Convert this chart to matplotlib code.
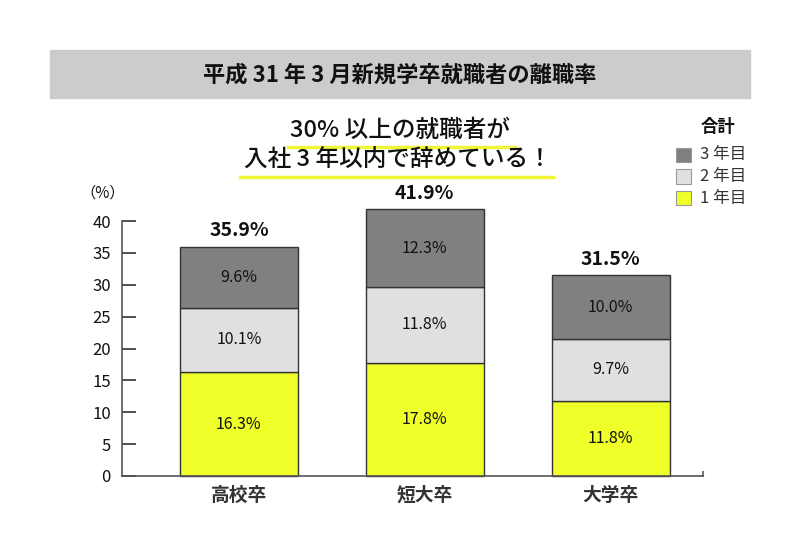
import matplotlib.pyplot as plt

plt.rcParams['font.family'] = ['Noto Sans CJK JP', 'DejaVu Sans']

categories = ['高校卒', '短大卒', '大学卒']
year1 = [16.3, 17.8, 11.8]
year2 = [10.1, 11.8, 9.7]
year3 = [9.6, 12.3, 10.0]
totals = [35.9, 41.9, 31.5]
yticks = [0, 5, 10, 15, 20, 25, 30, 35, 40]

c1 = '#eeff2a'
c2 = '#e0e0e0'
c3 = '#808080'
edge = '#333333'

fig = plt.figure(figsize=(8, 5.5), dpi=100)

# title band
fig.patches.append(plt.Rectangle((50 / 800, 1 - 98 / 550), 700 / 800, 48 / 550,
                                 transform=fig.transFigure, color='#cccccc', zorder=0))
fig.text(0.5, 1 - 75 / 550, '平成 31 年 3 月新規学卒就職者の離職率', ha='center', va='center',
         fontsize=16, fontweight='bold', color='#111111')

# headline with yellow underline
fig.text(400 / 800, 1 - 130 / 550, '30% 以上の就職者が', ha='center', va='center',
         fontsize=17, fontweight='medium', color='#111111')
fig.text(398 / 800, 1 - 160 / 550, '入社 3 年以内で辞めている！', ha='center', va='center',
         fontsize=17, fontweight='medium', color='#111111')
fig.add_artist(plt.Line2D([288 / 800, 515 / 800], [1 - 147 / 550, 1 - 147 / 550],
                          color='#f0f53a', lw=2.5, transform=fig.transFigure, zorder=0))
fig.add_artist(plt.Line2D([240 / 800, 553 / 800], [1 - 177 / 550, 1 - 177 / 550],
                          color='#f0f53a', lw=2.5, transform=fig.transFigure, zorder=0))

# legend
fig.text(718 / 800, 1 - 127 / 550, '合計', ha='center', va='center', fontsize=12.5,
         fontweight='bold', color='#111111')
for i, (col, lab) in enumerate([(c3, '3 年目'), (c2, '2 年目'), (c1, '1 年目')]):
    yc = 155 + i * 21.5
    fig.patches.append(plt.Rectangle((676 / 800, 1 - (yc + 7) / 550), 15 / 800, 14 / 550,
                                     transform=fig.transFigure, facecolor=col,
                                     edgecolor='#999999', lw=0.8))
    fig.text(700 / 800, 1 - yc / 550, lab, ha='left', va='center', fontsize=12, color='#333333')

ax = fig.add_axes([122 / 800, 1 - 476 / 550, (703 - 122) / 800, 255 / 550])
x = range(len(categories))
w = 0.635
ax.bar(x, year1, w, color=c1, edgecolor=edge, lw=1, clip_on=False)
ax.bar(x, year2, w, bottom=year1, color=c2, edgecolor=edge, lw=1, clip_on=False)
bot3 = [a + b for a, b in zip(year1, year2)]
ax.bar(x, year3, w, bottom=bot3, color=c3, edgecolor=edge, lw=1, clip_on=False)

for i in x:
    ax.text(i, year1[i] / 2, f'{year1[i]:.1f}%', ha='center', va='center', fontsize=11.5, color='#111111')
    ax.text(i, year1[i] + year2[i] / 2, f'{year2[i]:.1f}%', ha='center', va='center', fontsize=11.5, color='#111111')
    ax.text(i, bot3[i] + year3[i] / 2, f'{year3[i]:.1f}%', ha='center', va='center', fontsize=11.5, color='#111111')
    top = bot3[i] + year3[i]
    ax.text(i, top + 1.0, f'{totals[i]:.1f}%', ha='center', va='bottom', fontsize=14,
            fontweight='bold', color='#111111', clip_on=False)

ax.set_xlim(-0.629, 2.497)
ax.set_ylim(0, 40)
ax.set_yticks(yticks)
ax.set_xticks(list(x))
ax.set_xticklabels(categories, fontsize=13.5, fontweight='bold', color='#333333')
ax.tick_params(axis='y', direction='in', length=10, width=1.2, color='#333333',
               labelsize=12, pad=8, labelcolor='#111111')
ax.tick_params(axis='x', length=0, pad=7)
ax.spines['top'].set_visible(False)
ax.spines['right'].set_visible(False)
for s in ['left', 'bottom']:
    ax.spines[s].set_color('#555555')
    ax.spines[s].set_linewidth(1.2)
ax.plot([2.497, 2.497], [0, 0.6], color='#777777', lw=1.5, clip_on=False)
fig.text(103 / 800, 1 - 193 / 550, '（%）', ha='center', va='center', fontsize=11, color='#111111')

fig.savefig('out.png', dpi=100)
